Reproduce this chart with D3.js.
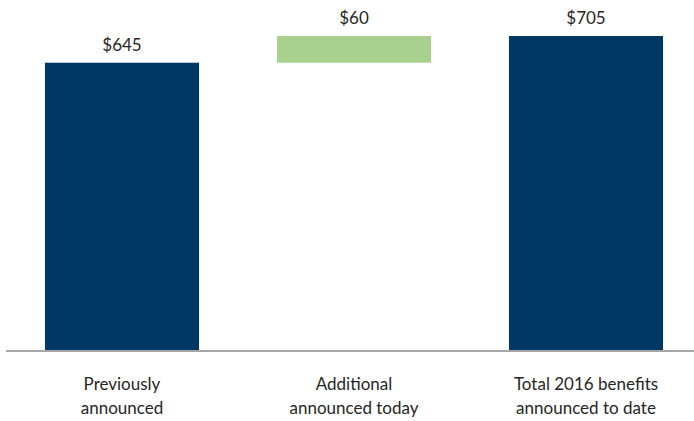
<!DOCTYPE html>
<html><head><meta charset="utf-8">
<script src="https://cdn.jsdelivr.net/npm/d3@7"></script>
<style>body{margin:0;background:#fff}svg{display:block}</style>
</head><body><svg id="c" width="694" height="421"></svg>
<script>
const categories = ["Previously announced", "Additional announced today", "Total 2016 benefits announced to date"];
const labelLines = [["Previously","announced"],["Additional","announced today"],["Total 2016 benefits","announced to date"]];
const starts = [0, 645, 0];
const ends = [645, 705, 705];
const valueLabels = ["$645", "$60", "$705"];
const colors = ["#003865", "#a9d18e", "#003865"];

const svg = d3.select("#c");
const x = d3.scaleBand().domain(categories).range([6, 702]).paddingInner(0.336).paddingOuter(0.168);
const y = d3.scaleLinear().domain([0, 705]).range([350, 36]);
const font = "Lato, sans-serif";

svg.selectAll("rect.bar").data(categories).join("rect")
  .attr("x", d => x(d)).attr("width", x.bandwidth())
  .attr("y", (d,i) => y(Math.max(starts[i], ends[i])))
  .attr("height", (d,i) => Math.abs(y(starts[i]) - y(ends[i])))
  .attr("fill", (d,i) => colors[i]);

svg.append("line").attr("x1", 6).attr("x2", 694).attr("y1", y(0)+1).attr("y2", y(0)+1)
  .attr("stroke", "#a6a6a6").attr("stroke-width", 2);

svg.selectAll("text.val").data(categories).join("text")
  .attr("x", d => x(d) + x.bandwidth()/2)
  .attr("y", (d,i) => y(Math.max(starts[i], ends[i])) - 12)
  .attr("text-anchor", "middle")
  .attr("font-family", font).attr("font-size", 17)
  .attr("fill", "#262626")
  .text((d,i) => valueLabels[i]);

categories.forEach((c,i) => {
  labelLines[i].forEach((ln, j) => {
    svg.append("text").attr("x", x(c) + x.bandwidth()/2).attr("y", 390 + j*24)
      .attr("text-anchor", "middle")
      .attr("font-family", font).attr("font-size", 17)
      .attr("fill", "#262626").text(ln);
  });
});
</script></body></html>
